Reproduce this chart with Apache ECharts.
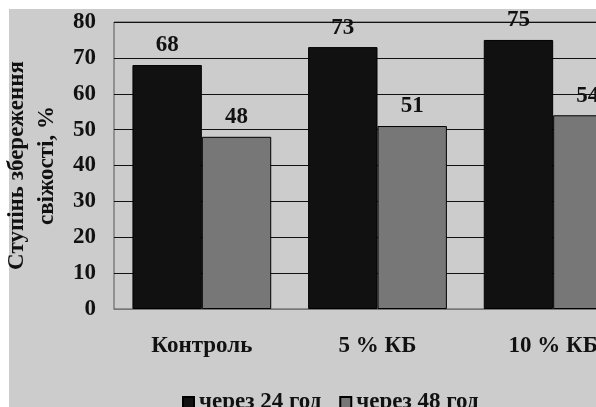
<!DOCTYPE html>
<html>
<head>
<meta charset="utf-8">
<script src="https://cdn.jsdelivr.net/npm/echarts@6/dist/echarts.min.js"></script>
<style>
  html, body { margin: 0; padding: 0; background: #ffffff; }
  #chart { width: 596px; height: 407px; }
</style>
</head>
<body>
<div id="chart"></div>
<script>
// Freshness retention by sample and storage time
const categories = ['Контроль', '5 % КБ', '10 % КБ'];
const seriesNames = ['через 24 год', 'через 48 год'];
const after24h = [68, 73, 75];
const after48h = [48, 51, 54];
const yTicks = [0, 10, 20, 30, 40, 50, 60, 70, 80];

const FONT = '"Liberation Serif", "DejaVu Serif", serif';
const FS = 23;

const chart = echarts.init(document.getElementById('chart'), null, { renderer: 'canvas' });

const labelStyle = {
  show: true,
  position: 'top',
  distance: 8,
  fontFamily: FONT,
  fontWeight: 'bold',
  fontSize: FS,
  color: '#111111'
};

chart.setOption({
  animation: false,
  backgroundColor: '#ffffff',
  graphic: [
    {
      // grey panel behind the chart
      type: 'rect',
      z: -10,
      silent: true,
      shape: { x: 9, y: 9, width: 600, height: 410 },
      style: { fill: '#cccccc' }
    },
    {
      // white page margin along the top edge
      type: 'rect',
      z: 100,
      silent: true,
      shape: { x: 0, y: 0, width: 596, height: 9 },
      style: { fill: '#ffffff' }
    }
  ],
  grid: {
    left: 114,
    top: 22,
    width: 527,
    height: 287,
    outerBoundsMode: 'none',
    containLabel: false,
    show: true,
    backgroundColor: 'transparent',
    borderColor: '#555555',
    borderWidth: 1
  },
  legend: {
    data: seriesNames,
    left: 177,
    top: 386,
    itemWidth: 11,
    itemHeight: 11,
    itemGap: 18,
    icon: 'rect',
    textStyle: { fontFamily: FONT, fontWeight: 'bold', fontSize: FS, color: '#111111' }
  },
  xAxis: {
    type: 'category',
    data: categories,
    axisTick: { show: false },
    axisLine: { show: true, lineStyle: { color: '#777777', width: 1 } },
    axisLabel: {
      margin: 26,
      fontFamily: FONT,
      fontWeight: 'bold',
      fontSize: FS,
      color: '#111111'
    }
  },
  yAxis: {
    type: 'value',
    min: yTicks[0],
    max: yTicks[yTicks.length - 1],
    interval: 10,
    name: 'Ступінь збереження\nсвіжості, %',
    nameLocation: 'middle',
    nameRotate: 90,
    nameGap: 48,
    nameTextStyle: {
      fontFamily: FONT,
      fontWeight: 'bold',
      fontSize: FS,
      lineHeight: 30,
      color: '#111111'
    },
    axisLine: { show: false },
    axisTick: { show: false },
    splitLine: { lineStyle: { color: '#111111', width: 1 } },
    axisLabel: {
      margin: 18,
      fontFamily: FONT,
      fontWeight: 'bold',
      fontSize: FS,
      color: '#111111'
    }
  },
  series: [
    {
      name: seriesNames[0],
      type: 'bar',
      data: after24h,
      barGap: '0%',
      barCategoryGap: '21%',
      itemStyle: { color: '#111111', borderColor: '#000000', borderWidth: 1 },
      label: labelStyle
    },
    {
      name: seriesNames[1],
      type: 'bar',
      data: after48h,
      itemStyle: { color: '#777777', borderColor: '#000000', borderWidth: 1 },
      label: labelStyle
    }
  ]
});
</script>
</body>
</html>
